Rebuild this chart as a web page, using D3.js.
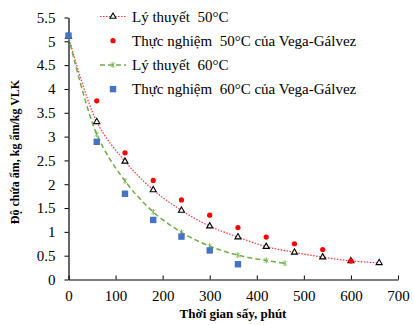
<!DOCTYPE html>
<html>
<head>
<meta charset="utf-8">
<script src="https://cdn.jsdelivr.net/npm/d3@7"></script>
<style>
  body { margin: 0; background: #fff; }
  svg text { font-family: "Liberation Serif", "Times New Roman", serif; }
</style>
</head>
<body>
<svg id="chart"></svg>
<script>
// data
const theory50X = [0, 60, 120, 180, 240, 300, 360, 420, 480, 540, 600, 660];
const theory50Y = [5.1, 3.31, 2.48, 1.88, 1.45, 1.12, 0.89, 0.69, 0.57, 0.47, 0.39, 0.35];
const exp50X = [0, 60, 120, 180, 240, 300, 360, 420, 480, 540, 600];
const exp50Y = [5.12, 3.75, 2.66, 2.08, 1.67, 1.35, 1.09, 0.89, 0.75, 0.63, 0.39];
const theory60X = [0, 60, 120, 180, 240, 300, 360, 420, 460];
const theory60Y = [5.1, 3.05, 2.07, 1.42, 0.99, 0.7, 0.51, 0.4, 0.34];
const exp60X = [0, 60, 120, 180, 240, 300, 360];
const exp60Y = [5.12, 2.89, 1.8, 1.25, 0.9, 0.61, 0.32];
const xTicks = [0, 100, 200, 300, 400, 500, 600, 700];
const yTicks = [0, 0.5, 1, 1.5, 2, 2.5, 3, 3.5, 4, 4.5, 5, 5.5];
const legendLabels = [
  "Lý thuyết  50°C",
  "Thực nghiệm  50°C của Vega-Gálvez",
  "Lý thuyết  60°C",
  "Thực nghiệm  60°C của Vega-Gálvez"
];

const width = 414;
const height = 325;
const margin = { top: 17.5, right: 16, bottom: 45.5, left: 68.5 };

const svg = d3.select("#chart").attr("width", width).attr("height", height);

const x = d3.scaleLinear().domain([0, 700]).range([margin.left, width - margin.right]);
const y = d3.scaleLinear().domain([0, 5.5]).range([height - margin.bottom, margin.top]);

const zip = (xs, ys) => xs.map((v, i) => ({ x: v, y: ys[i] }));
const t50 = zip(theory50X, theory50Y);
const e50 = zip(exp50X, exp50Y);
const t60 = zip(theory60X, theory60Y);
const e60 = zip(exp60X, exp60Y);

const line = d3.line()
  .x((d) => x(d.x))
  .y((d) => y(d.y))
  .curve(d3.curveCatmullRom.alpha(0.5));

// axes
const yAxis = svg.append("g")
  .attr("transform", `translate(${margin.left},0)`)
  .call(d3.axisLeft(y).tickValues(yTicks).tickSize(4).tickSizeOuter(0).tickPadding(9)
    .tickFormat((d) => String(d)));
const xAxis = svg.append("g")
  .attr("transform", `translate(0,${height - margin.bottom})`)
  .call(d3.axisBottom(x).tickValues(xTicks).tickSize(-4).tickSizeOuter(0).tickPadding(11));

[yAxis, xAxis].forEach((g) => {
  g.select(".domain").attr("stroke", "#000").attr("stroke-width", 1.2);
  g.selectAll(".tick line").attr("stroke", "#000");
  g.selectAll("text").attr("font-size", 15).attr("fill", "#000")
    .style("font-family", "Liberation Serif, serif");
});

// theory lines
svg.append("path").datum(t50).attr("d", line)
  .attr("fill", "none").attr("stroke", "#ff3333").attr("stroke-width", 1.2)
  .attr("stroke-dasharray", "1.5,1.5");
svg.append("path").datum(t60).attr("d", line)
  .attr("fill", "none").attr("stroke", "#70ad47").attr("stroke-width", 1.5)
  .attr("stroke-dasharray", "5,3");

// markers
const tri = d3.symbol().type(d3.symbolTriangle).size(16);
const star = d3.symbol().type(d3.symbolX).size(18);

function drawTri(g, px, py) {
  g.append("path").attr("d", tri).attr("transform", `translate(${px},${py})`)
    .attr("fill", "#fff").attr("stroke", "#000").attr("stroke-width", 1.1);
}
function drawX(g, px, py) {
  g.append("path").attr("d", star).attr("transform", `translate(${px},${py})`)
    .attr("fill", "#70ad47").attr("stroke", "#70ad47").attr("stroke-width", 0.6);
  g.append("line").attr("x1", px).attr("x2", px).attr("y1", py - 3).attr("y2", py + 3)
    .attr("stroke", "#70ad47").attr("stroke-width", 1);
}
function drawDot(g, px, py) {
  g.append("circle").attr("cx", px).attr("cy", py).attr("r", 2.6).attr("fill", "#ff0000");
}
function drawSq(g, px, py) {
  g.append("rect").attr("x", px - 3.2).attr("y", py - 3.2).attr("width", 6.4).attr("height", 6.4)
    .attr("fill", "#4472c4");
}

const marks = svg.append("g");
t60.forEach((d) => drawX(marks, x(d.x), y(d.y)));
t50.forEach((d) => drawTri(marks, x(d.x), y(d.y)));
e50.forEach((d) => drawDot(marks, x(d.x), y(d.y)));
e60.forEach((d) => drawSq(marks, x(d.x), y(d.y)));

// legend
const legend = svg.append("g");
const legX = 100, legY = 16.5, legStep = 24.2;
legendLabels.forEach((label, i) => {
  const ly = legY + i * legStep;
  const mx = legX + 13;
  if (i === 0) {
    legend.append("line").attr("x1", legX).attr("x2", legX + 26).attr("y1", ly).attr("y2", ly)
      .attr("stroke", "#ff3333").attr("stroke-width", 1.2).attr("stroke-dasharray", "1.5,1.5");
    drawTri(legend, mx, ly);
  } else if (i === 1) {
    drawDot(legend, mx, ly);
  } else if (i === 2) {
    legend.append("line").attr("x1", legX).attr("x2", legX + 26).attr("y1", ly).attr("y2", ly)
      .attr("stroke", "#70ad47").attr("stroke-width", 1.5).attr("stroke-dasharray", "5,3");
    drawX(legend, mx, ly);
  } else {
    drawSq(legend, mx, ly);
  }
  legend.append("text").attr("x", legX + 32).attr("y", ly).attr("dy", "0.35em")
    .attr("font-size", 15).attr("fill", "#000")
    .style("white-space", "pre").text(label);
});

// axis titles
svg.append("text")
  .attr("x", 233)
  .attr("y", 318)
  .attr("text-anchor", "middle")
  .attr("font-size", 13).attr("font-weight", "bold")
  .text("Thời gian sấy, phút");

svg.append("text")
  .attr("transform", `translate(19,152) rotate(-90)`)
  .attr("text-anchor", "middle")
  .attr("font-size", 12).attr("font-weight", "bold")
  .text("Độ chứa ẩm, kg ẩm/kg VLK");
</script>
</body>
</html>
